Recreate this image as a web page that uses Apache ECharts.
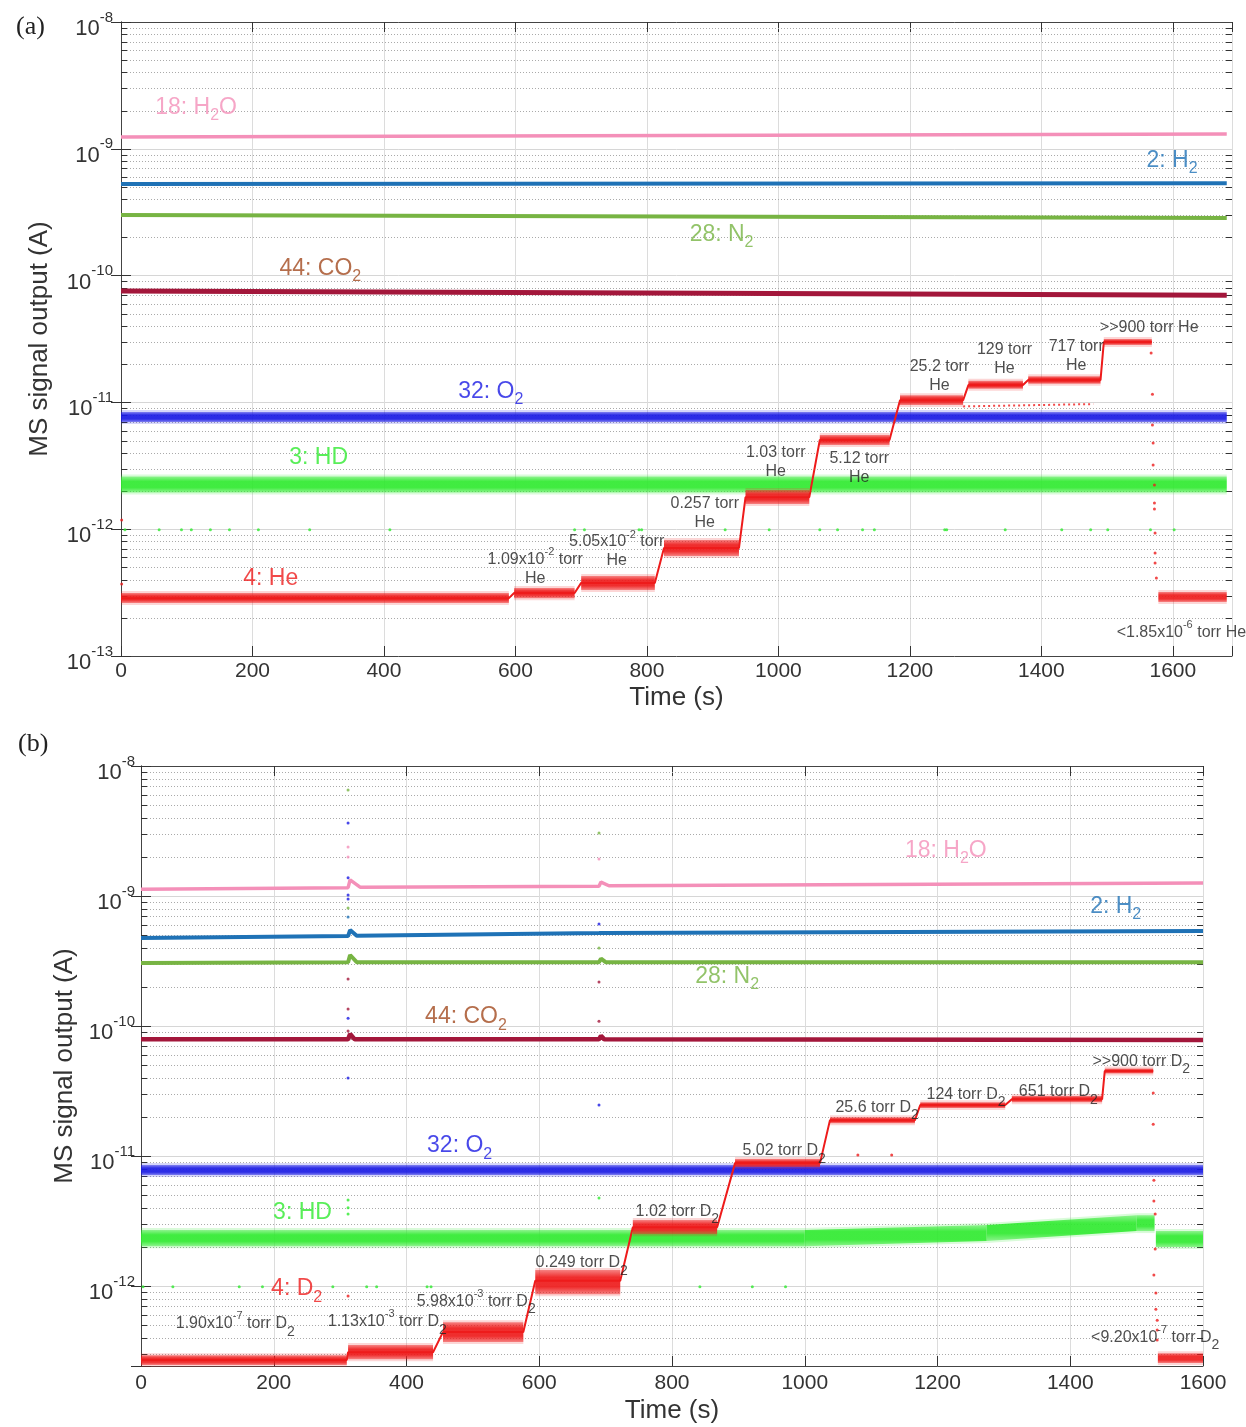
<!DOCTYPE html>
<html>
<head>
<meta charset="utf-8">
<script src="https://cdn.jsdelivr.net/npm/echarts@6/dist/echarts.min.js"></script>
<style>
html, body { margin: 0; background: #fff; }
#chart { width: 1246px; height: 1427px; }
</style>
</head>
<body>
<div id="chart"></div>
<script>
// ---------- panel (a): He exposure, time (s) vs MS signal (A) ----------
const aXMax = 1690
const aYMin = 1e-13
const aH2O = [[0, 1.24e-9], [1682, 1.31e-9]]
const aH2  = [[0, 5.27e-10], [1682, 5.35e-10]]
const aN2  = [[0, 3.0e-10], [1682, 2.85e-10]]
const aCO2 = [[0, 7.57e-11], [1682, 7.0e-11]]
// noisy traces: [t0, t1, low, high]
const aO2Band = [[0, 1682, 7.0e-12, 8.4e-12]]
const aHDBand = [[0, 1682, 1.95e-12, 2.6e-12]]
const aHDStray = [[6, 9.9e-13], [58, 9.9e-13], [92, 9.9e-13], [107, 9.9e-13], [136, 9.9e-13], [165, 9.9e-13],
  [209, 9.9e-13], [287, 9.9e-13], [409, 9.9e-13], [690, 9.9e-13], [705, 9.9e-13], [788, 9.9e-13],
  [792, 9.9e-13], [919, 9.9e-13], [986, 9.9e-13], [1063, 9.9e-13], [1090, 9.9e-13], [1128, 9.9e-13],
  [1146, 9.9e-13], [1253, 9.9e-13], [1256, 9.9e-13], [1345, 9.9e-13], [1431, 9.9e-13], [1475, 9.9e-13],
  [1501, 9.9e-13], [1566, 9.9e-13], [1602, 9.9e-13]]
const aHe = [[0, 2.86e-13], [590, 2.86e-13], [598, 3.14e-13], [690, 3.14e-13], [700, 3.77e-13], [812, 3.77e-13],
  [826, 7.1e-13], [940, 7.1e-13], [950, 1.79e-12], [1047, 1.79e-12], [1063, 5.05e-12], [1169, 5.05e-12],
  [1185, 1.04e-11], [1281, 1.04e-11], [1289, 1.37e-11], [1372, 1.37e-11], [1380, 1.5e-11], [1490, 1.5e-11],
  [1495, 2.99e-11], [1568, 2.99e-11]]
const aHeBand = [[0, 590, 2.62e-13, 3.14e-13], [598, 690, 2.86e-13, 3.44e-13], [700, 812, 3.32e-13, 4.27e-13],
  [826, 940, 6.15e-13, 8.22e-13], [950, 1047, 1.58e-12, 2.04e-12], [1063, 1169, 4.62e-12, 5.53e-12],
  [1185, 1281, 9.54e-12, 1.14e-11], [1289, 1372, 1.28e-11, 1.48e-11], [1380, 1490, 1.40e-11, 1.61e-11],
  [1495, 1568, 2.84e-11, 3.16e-11], [1578, 1682, 2.67e-13, 3.2e-13]]
const aHeFaint = [[1281, 9.3e-12], [1479, 9.7e-12]]
const aHeDots = [[1567, 2.45e-11], [1569, 1.16e-11], [1569, 6.63e-12], [1570, 4.79e-12], [1570, 3.21e-12],
  [1572, 2.23e-12], [1572, 1.61e-12], [1572, 1.44e-12], [1573, 9.33e-13], [1573, 6.49e-13], [1573, 5.42e-13],
  [1575, 4.12e-13], [1, 1.18e-12], [1, 3.7e-13]]
// tags: [series, text, t, value]
const aTags = [
  ['h2o', '{m|18: H}{s|2}{m|O}', 52, 2.06e-9],
  ['h2', '{m|2: H}{s|2}', 1560, 7.87e-10],
  ['n2', '{m|28: N}{s|2}', 865, 2.05e-10],
  ['co2t', '{m|44: CO}{s|2}', 241, 1.11e-10],
  ['o2', '{m|32: O}{s|2}', 513, 1.19e-11],
  ['hd', '{m|3: HD}', 256, 3.58e-12],
  ['he', '{m|4: He}', 186, 3.98e-13]
]
const aNotes = [
  ['{m|1.09x10}{p|-2}{m| torr}\n{m|He}', 630, 5.13e-13],
  ['{m|5.05x10}{p|-2}{m| torr}\n{m|He}', 754, 7.11e-13],
  ['{m|0.257 torr}\n{m|He}', 888, 1.42e-12],
  ['{m|1.03 torr}\n{m|He}', 996, 3.58e-12],
  ['{m|5.12 torr}\n{m|He}', 1123, 3.21e-12],
  ['{m|25.2 torr}\n{m|He}', 1245, 1.71e-11],
  ['{m|129 torr}\n{m|He}', 1344, 2.32e-11],
  ['{m|717 torr}\n{m|He}', 1453, 2.49e-11],
  ['{m|>>900 torr He}', 1564, 4.15e-11],
  ['{m|<1.85x10}{p|-6}{m| torr He}', 1613, 1.63e-13]
]

// ---------- panel (b): D2 exposure ----------
const bXMax = 1600
const bYMin = 2.43e-13
const bH2O = [[0, 1.13e-9], [312, 1.16e-9], [315, 1.33e-9], [330, 1.17e-9], [690, 1.19e-9], [693, 1.28e-9], [705, 1.2e-9], [1600, 1.26e-9]]
const bH2  = [[0, 4.75e-10], [312, 4.92e-10], [315, 5.47e-10], [325, 4.95e-10], [690, 5.19e-10], [693, 5.37e-10], [700, 5.2e-10], [1600, 5.38e-10]]
const bN2  = [[0, 3.05e-10], [312, 3.1e-10], [315, 3.52e-10], [325, 3.1e-10], [690, 3.1e-10], [693, 3.3e-10], [700, 3.1e-10], [1600, 3.1e-10]]
const bCO2 = [[0, 7.9e-11], [312, 7.9e-11], [315, 8.7e-11], [322, 7.9e-11], [690, 7.9e-11], [693, 8.4e-11], [698, 7.9e-11], [1600, 7.8e-11]]
// [t0, t1, low0, high0, (low1, high1)]
const bO2Band = [[0, 1600, 7.14e-12, 8.53e-12]]
const bHDBand = [[0, 1000, 2.03e-12, 2.70e-12], [1000, 1274, 2.03e-12, 2.70e-12, 2.22e-12, 2.95e-12],
  [1274, 1500, 2.22e-12, 2.95e-12, 2.65e-12, 3.51e-12], [1500, 1527, 2.65e-12, 3.51e-12], [1529, 1600, 2.0e-12, 2.65e-12]]
const bHDStray = [[3, 9.9e-13], [48, 9.9e-13], [148, 9.9e-13], [183, 9.9e-13], [289, 9.9e-13], [340, 9.9e-13],
  [355, 9.9e-13], [431, 9.9e-13], [437, 9.9e-13], [842, 9.9e-13], [921, 9.9e-13], [971, 9.9e-13],
  [312, 4.6e-12], [312, 4.0e-12], [312, 3.58e-12], [690, 4.75e-12]]
const bD2 = [[0, 2.7e-13], [310, 2.7e-13], [312, 3.1e-13], [440, 3.1e-13], [455, 4.43e-13], [576, 4.43e-13],
  [594, 1.1e-12], [722, 1.1e-12], [741, 2.84e-12], [868, 2.84e-12], [895, 8.83e-12], [1023, 8.83e-12],
  [1038, 1.89e-11], [1166, 1.89e-11], [1174, 2.47e-11], [1302, 2.47e-11], [1312, 2.74e-11], [1448, 2.74e-11],
  [1452, 4.51e-11], [1525, 4.51e-11]]
const bD2Band = [[0, 310, 2.47e-13, 2.94e-13], [312, 440, 2.74e-13, 3.52e-13], [455, 576, 3.71e-13, 5.28e-13],
  [594, 722, 8.67e-13, 1.33e-12], [741, 868, 2.51e-12, 3.22e-12], [895, 1023, 8.23e-12, 9.48e-12],
  [1038, 1166, 1.79e-11, 1.99e-11], [1174, 1302, 2.34e-11, 2.6e-11], [1312, 1448, 2.6e-11, 2.9e-11],
  [1452, 1525, 4.31e-11, 4.71e-11], [1532, 1600, 2.56e-13, 3.05e-13]]
const bD2Dots = [[1525, 3.05e-11], [1525, 1.76e-11], [1526, 6.53e-12], [1526, 4.51e-12], [1528, 3.58e-12],
  [1528, 1.93e-12], [1526, 1.22e-12], [1529, 8.84e-13], [1529, 6.65e-13], [1531, 5.47e-13], [1531, 4.59e-13],
  [1531, 3.85e-13], [1080, 1.02e-11], [1131, 1.02e-11], [312, 8.4e-13]]
// outliers at the two valve events
const bH2ODots = [[312, 2.38e-9], [312, 2.0e-9], [690, 1.93e-9]]
const bH2Dots  = [[312, 6.89e-10]]
const bN2Dots  = [[312, 6.54e-9], [312, 8.09e-10], [690, 3.05e-9], [690, 3.98e-10]]
const bCO2Dots = [[312, 2.3e-10], [312, 1.35e-10], [312, 9.17e-11], [690, 2.18e-10], [690, 1.09e-10]]
const bO2Dots  = [[312, 3.65e-9], [312, 1.38e-9], [312, 1.02e-9], [312, 9.5e-10], [312, 1.15e-10], [312, 3.98e-11],
  [690, 6.1e-10], [690, 2.47e-11]]
const bTags = [
  ['h2o', '{m|18: H}{s|2}{m|O}', 1151, 2.18e-9],
  ['h2', '{m|2: H}{s|2}', 1430, 8.09e-10],
  ['n2', '{m|28: N}{s|2}', 835, 2.34e-10],
  ['co2t', '{m|44: CO}{s|2}', 428, 1.15e-10],
  ['o2', '{m|32: O}{s|2}', 431, 1.17e-11],
  ['hd', '{m|3: HD}', 199, 3.58e-12],
  ['he', '{m|4: D}{s|2}', 196, 9.31e-13]
]
const bNotes = [
  ['{m|1.90x10}{p|-7}{m| torr D}{s|2}', 142, 5.47e-13],
  ['{m|1.13x10}{p|-3}{m| torr D}{s|2}', 371, 5.67e-13],
  ['{m|5.98x10}{p|-3}{m| torr D}{s|2}', 505, 8.09e-13],
  ['{m|0.249 torr D}{s|2}', 664, 1.61e-12],
  ['{m|1.02 torr D}{s|2}', 808, 3.98e-12],
  ['{m|5.02 torr D}{s|2}', 969, 1.17e-11],
  ['{m|25.6 torr D}{s|2}', 1109, 2.51e-11],
  ['{m|124 torr D}{s|2}', 1243, 3.16e-11],
  ['{m|651 torr D}{s|2}', 1382, 3.33e-11],
  ['{m|>>900 torr D}{s|2}', 1507, 5.68e-11],
  ['{m|<9.20x10}{p|-7}{m| torr D}{s|2}', 1528, 4.28e-13]
]

const minorMult = [2, 3, 4, 5, 6, 7, 8, 9]
const decades = [-13, -12, -11, -10, -9]

// ---------- styling ----------
const FONT = '"Liberation Sans", Arial, Helvetica, sans-serif'
const C = {
  h2o: '#f490b9', h2: '#1f72b6', n2: '#77b443', co2: '#a3173b', co2t: '#a24a1f',
  o2: '#1a1ae4', hd: '#30ea30', he: '#ee1b1b', axis: '#333'
}
const A = { x: 0, y: 0 }
const B = { x: 2, y: 2 }

const minorVals = min => decades.flatMap(d => minorMult.map(m => m * Math.pow(10, d))).filter(v => v > min && v < 1e-8)

function rgba(hex, a) {
  const n = parseInt(hex.slice(1), 16)
  return `rgba(${n >> 16},${(n >> 8) & 255},${n & 255},${a})`
}

function lineS(data, color, width, ax, extra) {
  return Object.assign({
    type: 'line', data, xAxisIndex: ax.x, yAxisIndex: ax.y, symbol: 'none', silent: true,
    lineStyle: { color, width }, z: 3
  }, extra || {})
}

// noise band: filled quad between low and high, soft edges
function bandS(rows, color, ax) {
  const data = rows.map(r => r.length === 4 ? [r[0], r[1], r[2], r[3], r[2], r[3]] : r)
  return {
    type: 'custom', xAxisIndex: ax.x, yAxisIndex: ax.y, silent: true, z: 3,
    encode: { x: [0, 1], y: [2, 3, 4, 5] },
    data,
    renderItem(params, api) {
      const p1 = api.coord([api.value(0), api.value(3)])
      const p2 = api.coord([api.value(1), api.value(5)])
      const p3 = api.coord([api.value(1), api.value(4)])
      const p4 = api.coord([api.value(0), api.value(2)])
      const pad = 2
      const grad = new echarts.graphic.LinearGradient(0, 0, 0, 1, [
        { offset: 0, color: rgba(color, 0.45) },
        { offset: 0.3, color: rgba(color, 0.9) },
        { offset: 0.7, color: rgba(color, 0.9) },
        { offset: 1, color: rgba(color, 0.45) }
      ])
      return {
        type: 'group', children: [
          { type: 'polygon', shape: { points: [[p1[0], p1[1] - pad], [p2[0], p2[1] - pad], [p3[0], p3[1] + pad], [p4[0], p4[1] + pad]] },
            style: { fill: rgba(color, 0.18) } },
          { type: 'polygon', shape: { points: [p1, p2, p3, p4] }, style: { fill: grad } }
        ]
      }
    }
  }
}

function dotS(data, color, ax, size) {
  return {
    type: 'scatter', data, xAxisIndex: ax.x, yAxisIndex: ax.y, symbolSize: size || 3, silent: true,
    itemStyle: { color }, z: 4
  }
}

function minorS(min, ax) {
  return {
    type: 'custom', xAxisIndex: ax.x, yAxisIndex: ax.y, silent: true, z: 1,
    encode: { x: 0, y: 1 },
    data: minorVals(min).map(v => [0, v]),
    renderItem(params, api) {
      const cs = params.coordSys
      const y = Math.round(api.coord([0, api.value(1)])[1]) + 0.5
      const x0 = cs.x, x1 = cs.x + cs.width
      return {
        type: 'group', children: [
          { type: 'line', shape: { x1: x0, y1: y, x2: x1, y2: y }, style: { stroke: '#aaa', lineWidth: 1, lineDash: [1, 2] } },
          { type: 'line', shape: { x1: x0, y1: y, x2: x0 + 6, y2: y }, style: { stroke: C.axis, lineWidth: 1 } },
          { type: 'line', shape: { x1: x1 - 6, y1: y, x2: x1, y2: y }, style: { stroke: C.axis, lineWidth: 1 } }
        ]
      }
    }
  }
}

const tagRich = {
  m: { fontSize: 23, lineHeight: 26, verticalAlign: 'top', fontFamily: FONT },
  s: { fontSize: 16, lineHeight: 18, verticalAlign: 'top', padding: [12, 0, 0, 0], fontFamily: FONT }
}
const noteRich = {
  m: { fontSize: 16, lineHeight: 19, verticalAlign: 'top', padding: [5, 0, 0, 0], color: '#222', fontFamily: FONT },
  p: { fontSize: 11, lineHeight: 13, verticalAlign: 'top', color: '#222', fontFamily: FONT },
  s: { fontSize: 14, lineHeight: 16, verticalAlign: 'top', padding: [14, 0, 0, 0], color: '#222', fontFamily: FONT }
}

function tagS(tags, ax) {
  return {
    type: 'scatter', xAxisIndex: ax.x, yAxisIndex: ax.y, symbolSize: 1, silent: true, z: 10,
    itemStyle: { color: 'rgba(0,0,0,0)' },
    data: tags.map(t => ({ name: t[1], value: [t[2], t[3]], label: { color: C[t[0]] } })),
    label: { show: true, position: 'inside', align: 'left', verticalAlign: 'middle', formatter: p => p.name, rich: tagRich }
  }
}

function noteS(notes, ax) {
  return {
    type: 'scatter', xAxisIndex: ax.x, yAxisIndex: ax.y, symbolSize: 1, silent: true, z: 10,
    itemStyle: { color: 'rgba(0,0,0,0)' },
    data: notes.map(n => ({ name: n[0], value: [n[1], n[2]] })),
    label: { show: true, position: 'inside', align: 'center', verticalAlign: 'middle', color: '#222', formatter: p => p.name, rich: noteRich }
  }
}

function xAxes(grid, max, margin, nameGap) {
  const tick = { show: true, inside: true, length: 10, lineStyle: { color: C.axis } }
  return [{
    type: 'value', gridIndex: grid, min: 0, max, interval: 200, position: 'bottom',
    name: 'Time (s)', nameLocation: 'middle', nameGap,
    nameTextStyle: { fontSize: 26, color: '#333', fontFamily: FONT },
    axisLine: { show: true, lineStyle: { color: '#444' } }, axisTick: tick,
    axisLabel: { margin, fontSize: 21, color: '#333', fontFamily: FONT, formatter: v => v % 200 === 0 ? String(v) : '' },
    splitLine: { show: true, lineStyle: { color: '#dcdcdc' } }
  }, {
    type: 'value', gridIndex: grid, min: 0, max, interval: 200, position: 'top',
    axisLine: { show: true, lineStyle: { color: '#444' } }, axisTick: tick,
    axisLabel: { show: false }, splitLine: { show: false }
  }]
}

function decadeLabel(v) {
  const e = Math.log10(v)
  const r = Math.round(e)
  if (Math.abs(e - r) > 1e-6) return ''
  return '{b|10}{e|' + r + '}'
}

function yAxes(grid, min, nameGap, margin) {
  const tick = { show: true, inside: true, length: 10, lineStyle: { color: C.axis } }
  return [{
    type: 'log', logBase: 10, gridIndex: grid, min, max: 1e-8, position: 'left',
    name: 'MS signal output (A)', nameLocation: 'middle', nameGap, nameRotate: 90,
    nameTextStyle: { fontSize: 26, color: '#333', fontFamily: FONT },
    axisLine: { show: true, lineStyle: { color: '#444' } }, axisTick: tick,
    axisLabel: {
      margin, color: '#333', fontSize: 22, fontFamily: FONT, formatter: decadeLabel,
      rich: {
        b: { fontSize: 22, lineHeight: 24, verticalAlign: 'top', padding: [8, 0, 0, 0], color: '#333', fontFamily: FONT },
        e: { fontSize: 15, lineHeight: 16, verticalAlign: 'top', color: '#333', fontFamily: FONT }
      }
    },
    splitLine: { show: true, lineStyle: { color: '#d6d6d6' } }
  }, {
    type: 'log', logBase: 10, gridIndex: grid, min, max: 1e-8, position: 'right',
    axisLine: { show: true, lineStyle: { color: '#444' } }, axisTick: tick,
    axisLabel: { show: false }, splitLine: { show: false }
  }]
}

const chart = echarts.init(document.getElementById('chart'))
chart.setOption({
  animation: false,
  backgroundColor: '#fff',
  title: [
    { text: '(a)', left: 11, top: 9, textStyle: { fontFamily: '"Liberation Serif", "Times New Roman", serif', fontSize: 26, fontWeight: 'normal', color: '#222' } },
    { text: '(b)', left: 13, top: 726, textStyle: { fontFamily: '"Liberation Serif", "Times New Roman", serif', fontSize: 26, fontWeight: 'normal', color: '#222' } }
  ],
  grid: [
    { left: 121, top: 22, width: 1111, height: 634 },
    { left: 141, top: 766, width: 1062, height: 600 }
  ],
  xAxis: [...xAxes(0, aXMax, 5, 29), ...xAxes(1, bXMax, 7, 32)],
  yAxis: [...yAxes(0, aYMin, 68, 8), ...yAxes(1, bYMin, 63, 6)],
  series: [
    minorS(aYMin, A),
    lineS(aH2O, C.h2o, 3.5, A),
    lineS(aH2, C.h2, 4, A),
    lineS(aN2, C.n2, 4, A),
    lineS(aCO2, C.co2, 5, A),
    bandS(aO2Band, C.o2, A),
    bandS(aHDBand, C.hd, A),
    dotS(aHDStray, C.hd, A),
    lineS(aHeFaint, C.he, 2, A, { lineStyle: { color: C.he, width: 2, type: [2, 3], opacity: 0.8 } }),
    lineS(aHe, C.he, 2, A),
    bandS(aHeBand, C.he, A),
    dotS(aHeDots, C.he, A),
    tagS(aTags, A),
    noteS(aNotes, A),

    minorS(bYMin, B),
    lineS(bH2O, C.h2o, 3.5, B),
    lineS(bH2, C.h2, 4, B),
    lineS(bN2, C.n2, 4, B),
    lineS(bCO2, C.co2, 4.5, B),
    dotS(bH2ODots, C.h2o, B),
    dotS(bH2Dots, C.h2, B),
    dotS(bN2Dots, C.n2, B),
    dotS(bCO2Dots, C.co2, B),
    dotS(bO2Dots, C.o2, B),
    bandS(bO2Band, C.o2, B),
    bandS(bHDBand, C.hd, B),
    dotS(bHDStray, C.hd, B),
    lineS(bD2, C.he, 2, B),
    bandS(bD2Band, C.he, B),
    dotS(bD2Dots, C.he, B),
    tagS(bTags, B),
    noteS(bNotes, B)
  ]
})
</script>
</body>
</html>
